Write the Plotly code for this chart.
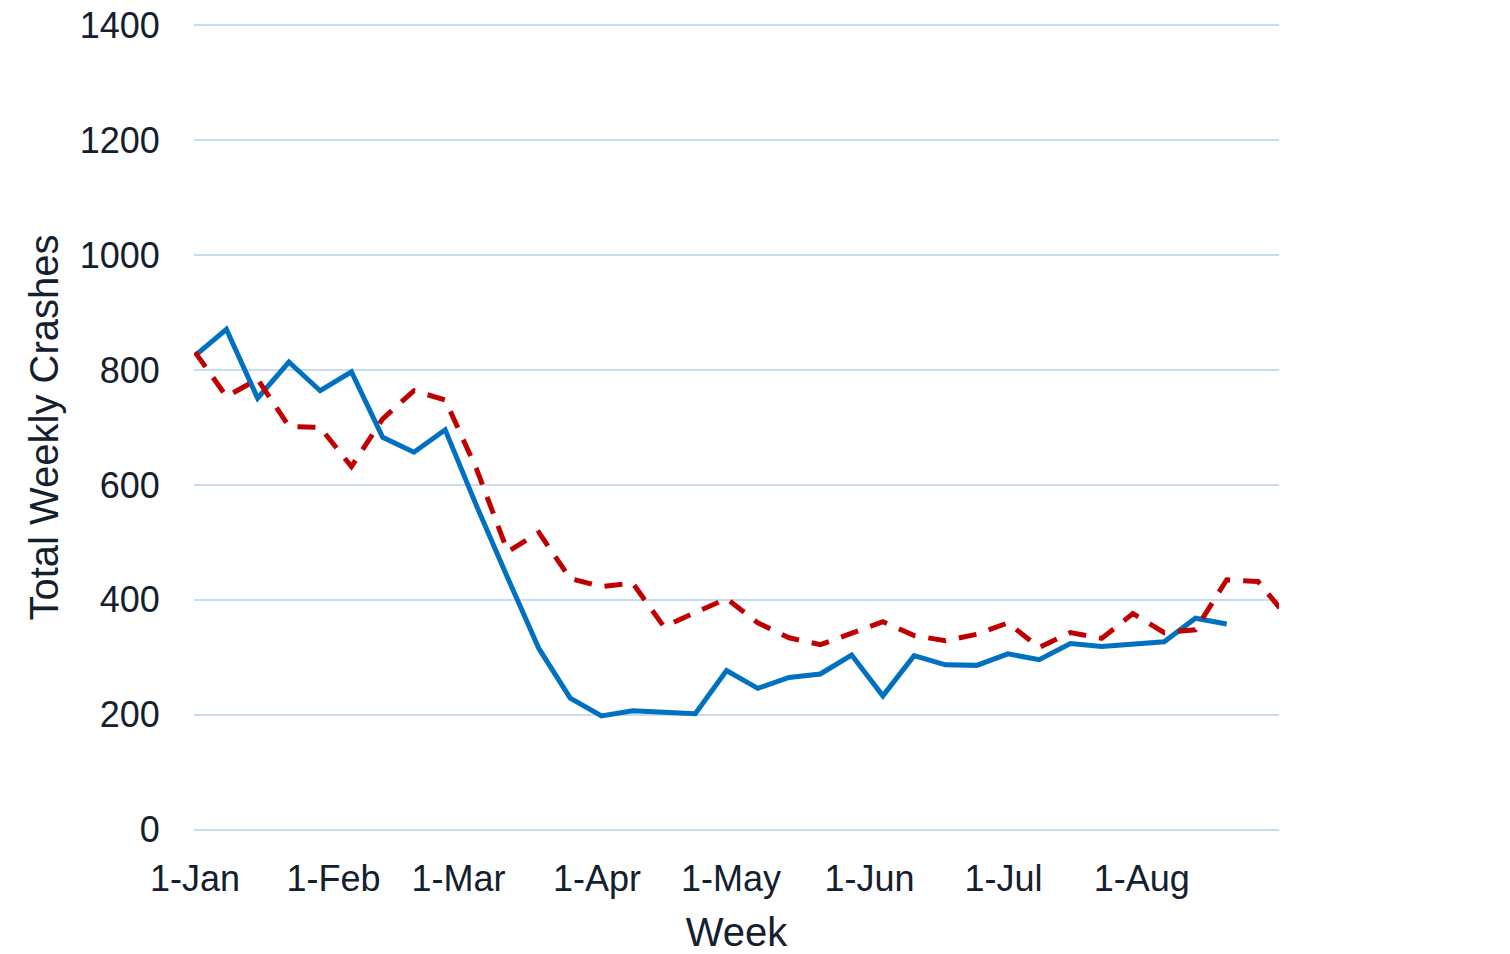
import plotly.graph_objects as go
import pandas as pd

# Weekly dates (non-leap display year; labels show day-month only)
start = "2021-01-01"
blue_values = [825, 871, 751, 814, 764, 797, 683, 657, 696, 564,
               438, 315, 229, 198, 207, 205, 202, 277, 246, 265,
               271, 304, 233, 303, 287, 286, 306, 296, 324, 319,
               323, 327, 368, 358]
red_values = [831, 754, 784, 702, 700, 632, 715, 764, 748, 628,
              484, 517, 437, 423, 429, 353, 378, 402, 360, 334,
              322, 341, 362, 338, 329, 340, 360, 317, 343, 333,
              376, 343, 348, 435, 432, 366]

blue_dates = pd.date_range(start, periods=len(blue_values), freq="7D")
red_dates = pd.date_range(start, periods=len(red_values), freq="7D")

tick_dates = ["2021-01-01", "2021-02-01", "2021-03-01", "2021-04-01",
              "2021-05-01", "2021-06-01", "2021-07-01", "2021-08-01"]
tick_labels = ["1-Jan", "1-Feb", "1-Mar", "1-Apr", "1-May", "1-Jun", "1-Jul", "1-Aug"]

y_ticks = [0, 200, 400, 600, 800, 1000, 1200, 1400]

text_color = "#13202E"
font_family = "Liberation Sans, Arial, sans-serif"

fig = go.Figure()
fig.add_trace(go.Scatter(
    x=blue_dates, y=blue_values, mode="lines",
    line=dict(color="#0070C0", width=5),
    showlegend=False, hoverinfo="skip",
))
fig.add_trace(go.Scatter(
    x=red_dates, y=red_values, mode="lines",
    line=dict(color="#C00000", width=5, dash="18px,13px"),
    showlegend=False, hoverinfo="skip",
))

fig.update_layout(
    width=1510, height=954,
    margin=dict(l=194, r=231, t=23, b=122, autoexpand=False),
    plot_bgcolor="white", paper_bgcolor="white",
    font=dict(family=font_family, color=text_color, size=36),
)
fig.update_xaxes(
    range=["2020-12-31 18:00", "2021-08-31 17:00"],
    tickmode="array", tickvals=tick_dates, ticktext=tick_labels,
    showgrid=False, zeroline=False, showline=False, automargin=False,
    ticks="outside", ticklen=15, tickcolor="rgba(0,0,0,0)",
    ticklabeloverflow="allow",
    tickfont=dict(size=36, color=text_color, family=font_family),
    title=dict(text="Week", font=dict(size=40, color=text_color, family=font_family), standoff=28),
)
fig.update_yaxes(
    range=[-4, 1404],
    tickmode="array", tickvals=y_ticks,
    showgrid=True, gridcolor="#C9DBEE", gridwidth=1.5,
    zeroline=False, showline=False, automargin=False,
    ticks="outside", ticklen=26, tickcolor="rgba(0,0,0,0)",
    ticklabeloverflow="allow",
    tickfont=dict(size=36, color=text_color, family=font_family),
    title=dict(text="Total Weekly Crashes", font=dict(size=40, color=text_color, family=font_family), standoff=8),
)

fig.write_html(
    "out.html",
    config={"displayModeBar": False},
    post_script="document.body.style.margin='0';document.body.style.overflow='hidden';",
)
